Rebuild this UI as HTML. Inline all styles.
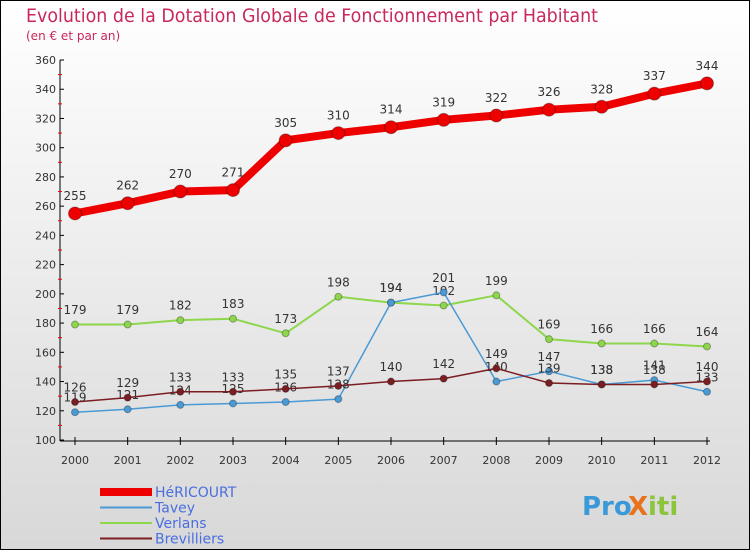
<!DOCTYPE html>
<html><head><meta charset="utf-8"><style>
body{margin:0;background:#fff}
svg{display:block;font-family:"DejaVu Sans","Liberation Sans",sans-serif}
</style></head><body>
<svg id="c" width="750" height="550" viewBox="0 0 750 550">
<defs><linearGradient id="bg" x1="0" y1="0" x2="0" y2="1"><stop offset="0" stop-color="#ffffff"/><stop offset="1" stop-color="#d8d8d8"/></linearGradient></defs>
<rect x="0.5" y="0.5" width="749" height="549" fill="url(#bg)" stroke="#000"/>
<text x="26" y="22" font-size="19" fill="#c8285a" textLength="572" lengthAdjust="spacingAndGlyphs">Evolution de la Dotation Globale de Fonctionnement par Habitant</text>
<text x="26" y="40" font-size="12" fill="#c8285a">(en € et par an)</text>
<g id="axes"></g>
<g id="series"></g>
<g id="legend"></g>
<g font-size="26" font-weight="bold">
<text x="582" y="515" fill="#3a9ad9">Pro</text><text x="628" y="515" fill="#e8731c">X</text><text x="648" y="515" fill="#8cc43c">iti</text>
</g>
</svg>
<script>
const years=[2000,2001,2002,2003,2004,2005,2006,2007,2008,2009,2010,2011,2012];
const yTicks=[100,120,140,160,180,200,220,240,260,280,300,320,340,360];
const hericourt=[255,262,270,271,305,310,314,319,322,326,328,337,344];
const tavey=[119,121,124,125,126,128,194,201,140,147,138,141,133];
const verlans=[179,179,182,183,173,198,194,192,199,169,166,166,164];
const brevilliers=[126,129,133,133,135,137,140,142,149,139,138,138,140];
const NS='http://www.w3.org/2000/svg';
const X=i=>75+i*(707-75)/12;
const Y=v=>440-(v-100)*(380/260);
function mk(tag,attrs,parent,txt){const e=document.createElementNS(NS,tag);for(const k in attrs)e.setAttribute(k,attrs[k]);if(txt!==undefined)e.textContent=txt;parent.appendChild(e);return e;}
const ax=document.getElementById('axes');
let l=mk('line',{x1:60,y1:60,x2:60,y2:441,stroke:'#000'},ax);


l=mk('line',{x1:60,y1:441,x2:710,y2:441,stroke:'#000'},ax);


yTicks.forEach(v=>{
  mk('line',{x1:60,y1:Y(v),x2:64,y2:Y(v),stroke:'#000'},ax);
  if(v<360)mk('line',{x1:58,y1:Y(v+10),x2:62,y2:Y(v+10),stroke:'#e00'},ax);
  const t=mk('text',{x:56,y:Y(v)+4,'font-size':11,'text-anchor':'end',fill:'#333'},ax,v);
  
  
});
years.forEach((y,i)=>{
  mk('line',{x1:X(i),y1:437,x2:X(i),y2:445,stroke:'#000'},ax);
  const t=mk('text',{x:X(i),y:464,'font-size':11,'text-anchor':'middle',fill:'#333'},ax,y);
  
  
});
const sg=document.getElementById('series');
function series(data,color,w,r,name){
  const g=mk('g',{},sg);
  
  
  mk('polyline',{points:data.map((v,i)=>X(i)+','+Y(v)).join(' '),fill:'none',stroke:color,'stroke-width':w,'stroke-linejoin':'round'},g);
  data.forEach((v,i)=>{
    const c=mk('circle',{cx:X(i),cy:Y(v),r:r,fill:color,stroke:'rgba(0,0,0,0.3)'},g);
    
    
    const t=mk('text',{x:X(i),y:Y(v)-(r+7),'font-size':12,'text-anchor':'middle',fill:'#333'},g,v);
    
    
  });
}
series(verlans,'#8ed64c',2,3.5,'verlans');
series(tavey,'#4a9ad6',1.5,3.5,'tavey');
series(brevilliers,'#7a1e22',1.5,3.5,'brevilliers');
series(hericourt,'#ee0000',8,6.5,'hericourt');
const lg=document.getElementById('legend');
[['HéRICOURT','#ee0000',8],['Tavey','#4a9ad6',2],['Verlans','#8ed64c',2],['Brevilliers','#7a1e22',2]].forEach((d,i)=>{
  const y=492+i*15.5;
  const g=mk('g',{},lg);
  
  
  mk('line',{x1:100,y1:y,x2:152,y2:y,stroke:d[1],'stroke-width':d[2]},g);
  mk('text',{x:155,y:y+5,'font-size':14,fill:'#4a6ee0'},g,d[0]);
});
</script>
</body></html>
